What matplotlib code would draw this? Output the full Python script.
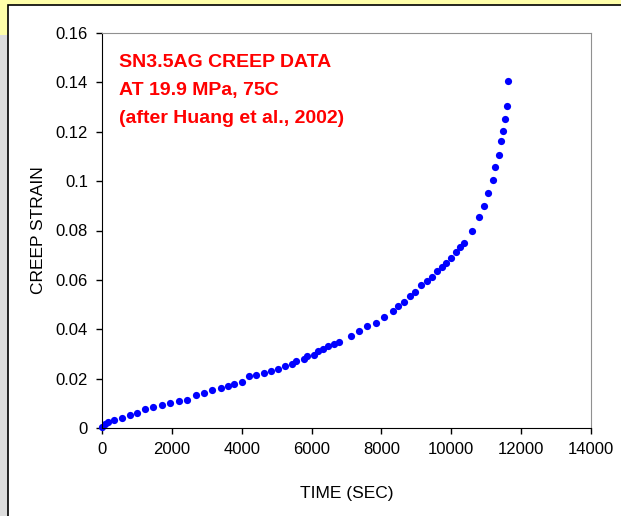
import matplotlib
matplotlib.use("Agg")
import matplotlib.pyplot as plt
from matplotlib.patches import Rectangle
from matplotlib.ticker import FuncFormatter

# creep data
time_sec = [0, 86, 163, 341, 574, 794, 1013, 1225, 1472, 1710, 1940, 2197, 2436,
            2694, 2913, 3162, 3401, 3621, 3793, 4004, 4217, 4408, 4627, 4828,
            5029, 5250, 5441, 5565, 5794, 5871, 6061, 6196, 6330, 6473, 6636,
            6789, 7133, 7363, 7601, 7851, 8061, 8320, 8483, 8655, 8816, 8960,
            9132, 9295, 9458, 9582, 9734, 9849, 9992, 10135, 10241, 10356,
            10585, 10805, 10929, 11063, 11196, 11253, 11359, 11425, 11474,
            11531, 11589, 11617]
creep_strain = [0.0003, 0.0016, 0.0023, 0.0031, 0.0040, 0.0051, 0.0061, 0.0076,
                0.0085, 0.0094, 0.0101, 0.0110, 0.0114, 0.0132, 0.0140, 0.0154,
                0.0162, 0.0171, 0.0178, 0.0186, 0.0209, 0.0214, 0.0223, 0.0231,
                0.0240, 0.0251, 0.0260, 0.0270, 0.0281, 0.0290, 0.0297, 0.0311,
                0.0319, 0.0333, 0.0341, 0.0348, 0.0373, 0.0393, 0.0414, 0.0427,
                0.0448, 0.0475, 0.0495, 0.0509, 0.0534, 0.0552, 0.0578, 0.0595,
                0.0613, 0.0634, 0.0654, 0.0668, 0.0689, 0.0711, 0.0732, 0.0749,
                0.0799, 0.0856, 0.0898, 0.0952, 0.1005, 0.1057, 0.1104, 0.1161,
                0.1204, 0.1253, 0.1303, 0.1404]

x_ticks = [0, 2000, 4000, 6000, 8000, 10000, 12000, 14000]
y_ticks = [0, 0.02, 0.04, 0.06, 0.08, 0.1, 0.12, 0.14, 0.16]

plt.rcParams['font.family'] = ['Liberation Sans', 'DejaVu Sans']

W, H = 621, 516
fig = plt.figure(figsize=(W / 100, H / 100), dpi=100)
fig.patch.set_facecolor('#FFFFAA')

# gray slide background and white chart box
fig.add_artist(Rectangle((0, 0), 1, (H - 35) / H, transform=fig.transFigure,
                         facecolor='#DDDDDD', edgecolor='none', zorder=0))
fig.add_artist(Rectangle((8 / W, -0.05), 1.1, (H - 5) / H + 0.05,
                         transform=fig.transFigure, facecolor='white',
                         edgecolor='black', linewidth=1.2, zorder=0))

ax = fig.add_axes([102 / W, (H - 428) / H, (591 - 102) / W, (428 - 33) / H])
ax.set_facecolor('white')

ax.plot(time_sec, creep_strain, 'o', color='#0000FF', markersize=5.2,
        markeredgewidth=0, clip_on=False)

ax.set_xlim(0, 14000)
ax.set_ylim(0, 0.16)
ax.set_xticks(x_ticks)
ax.set_yticks(y_ticks)
ax.yaxis.set_major_formatter(FuncFormatter(lambda v, p: '%g' % v))
ax.tick_params(direction='out', length=4, width=1, labelsize=12, pad=6)

ax.spines['left'].set_color('black')
ax.spines['bottom'].set_color('black')
ax.spines['top'].set_color('#909090')
ax.spines['right'].set_color('#909090')

ax.set_xlabel('TIME (SEC)', fontsize=12.5, labelpad=21)
ax.set_ylabel('CREEP STRAIN', fontsize=12.5, labelpad=7)

ax.text(0.035, 0.946, 'SN3.5AG CREEP DATA\nAT 19.9 MPa, 75C\n(after Huang et al., 2002)',
        transform=ax.transAxes, color='#FF0000', fontsize=14, fontweight='bold',
        va='top', ha='left', linespacing=1.82)

fig.savefig('out.png', dpi=100, facecolor=fig.get_facecolor())
